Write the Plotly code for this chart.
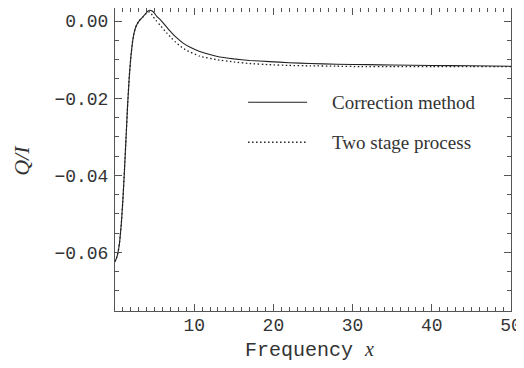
import plotly.graph_objects as go

# Correction method (solid)
x_corr = [0, 0.2, 0.4, 0.6, 0.8, 1.0, 1.2, 1.4, 1.6, 1.8, 2.0, 2.2, 2.45, 2.73, 3.1, 3.57, 3.9, 4.15,
          4.4, 4.7, 5.0, 5.25, 5.8, 6.5, 7.1, 7.77, 8.6, 9.5, 10.7, 12.8, 15, 17, 19.5, 22, 24.6, 28,
          32, 35, 40, 45, 50]
y_corr = [-0.0624, -0.0614, -0.0598, -0.0570, -0.0525, -0.0462, -0.0385, -0.0300, -0.0215, -0.0145,
          -0.0093, -0.0056, -0.0027, -0.0010, 0.0002, 0.0012, 0.0020, 0.0026, 0.0028, 0.0026, 0.0020,
          0.0013, 0.0002, -0.0015, -0.0029, -0.0043, -0.0057, -0.0068, -0.0079, -0.0091, -0.0098,
          -0.0102, -0.0105, -0.0108, -0.0110, -0.0112, -0.0113, -0.0114, -0.0115, -0.0116, -0.0117]

# Two stage process (dotted)
x_two = [0, 0.2, 0.4, 0.6, 0.8, 1.0, 1.2, 1.4, 1.6, 1.8, 2.0, 2.2, 2.45, 2.73, 3.1, 3.57, 3.9, 4.15,
         4.4, 4.6, 4.83, 5.25, 5.67, 6.5, 7.14, 7.56, 8.3, 9.03, 10.7, 12.8, 15, 17, 19.5, 22, 24.6,
         28, 30.9, 35, 40, 45, 50]
y_two = [-0.0624, -0.0614, -0.0598, -0.0570, -0.0525, -0.0462, -0.0385, -0.0300, -0.0215, -0.0145,
         -0.0093, -0.0056, -0.0027, -0.0010, 0.0002, 0.0012, 0.0019, 0.0023, 0.0024, 0.0019, 0.0011,
         0.0000, -0.0010, -0.0030, -0.0044, -0.0053, -0.0066, -0.0076, -0.0091, -0.0100, -0.0106,
         -0.0110, -0.0113, -0.0115, -0.0116, -0.0117, -0.0118, -0.0118, -0.0118, -0.0118, -0.0118]

x_ticks = [10, 20, 30, 40, 50]
y_ticks = [0.0, -0.02, -0.04, -0.06]
series_names = ["Correction method", "Two stage process"]

INK = "#222222"
AX = "#555555"
TXT = "#333333"
DOT = "1.5px,2.5px"

fig = go.Figure()
fig.add_trace(go.Scatter(x=x_corr, y=y_corr, mode="lines", name=series_names[0],
                         line=dict(color=INK, width=1.1, shape="spline", smoothing=0.3),
                         showlegend=False))
fig.add_trace(go.Scatter(x=x_two, y=y_two, mode="lines", name=series_names[1],
                         line=dict(color=INK, width=1.3, dash=DOT, shape="spline", smoothing=0.3),
                         showlegend=False))

# manual legend (paper coordinates)
leg_y = [0.689, 0.557]
for i, (nm, dash, w) in enumerate(zip(series_names, ["solid", DOT], [1.1, 1.3])):
    fig.add_shape(type="line", xref="paper", yref="paper",
                  x0=0.336, x1=0.485, y0=leg_y[i], y1=leg_y[i],
                  line=dict(color=INK, width=w, dash=dash))
    fig.add_annotation(xref="paper", yref="paper", x=0.543, y=leg_y[i],
                       xanchor="left", yanchor="middle", showarrow=False, text=nm,
                       font=dict(family="Liberation Serif", size=19, color=TXT))

# axis titles
fig.add_annotation(xref="paper", yref="paper", x=0.49, y=-0.128, xanchor="center", yanchor="middle",
                   showarrow=False,
                   text='Frequency <span style="font-family:Liberation Serif"><i>x</i></span>',
                   font=dict(family="Liberation Mono", size=20, color=TXT))
fig.add_annotation(xref="paper", yref="paper", x=-0.238, y=0.498, xanchor="center", yanchor="middle",
                   showarrow=False, textangle=-90, text="<i>Q/I</i>", borderpad=0,
                   font=dict(family="Liberation Serif", size=22, color=TXT))

# page body has an 8px margin: figure is sized/placed to compensate
fig.update_layout(
    width=516, height=360,
    margin=dict(l=107, r=13, t=0, b=57),
    paper_bgcolor="white", plot_bgcolor="white",
    font=dict(family="Liberation Mono", size=18, color=TXT),
)
fig.update_xaxes(
    range=[0, 50], tickvals=x_ticks, ticktext=[str(v) for v in x_ticks], automargin=False,
    showgrid=False, zeroline=False, showline=True, linecolor=AX, linewidth=1, mirror="ticks",
    ticks="inside", ticklen=7, tickcolor=AX, tickwidth=1, ticklabelstandoff=-3,
    minor=dict(dtick=1, tick0=0, ticks="inside", ticklen=4, tickcolor=AX, showgrid=False),
    tickfont=dict(family="Liberation Mono", size=18, color=TXT),
)
fig.update_yaxes(
    range=[-0.0752, 0.0034], tickvals=y_ticks, tickformat=".2f", automargin=False,
    showgrid=False, zeroline=False, showline=True, linecolor=AX, linewidth=1, mirror="ticks",
    ticks="inside", ticklen=7, tickcolor=AX, tickwidth=1, ticklabelstandoff=2,
    minor=dict(dtick=0.005, tick0=0, ticks="inside", ticklen=4, tickcolor=AX, showgrid=False),
    tickfont=dict(family="Liberation Mono", size=18, color=TXT),
)

fig.write_html("out.html")
